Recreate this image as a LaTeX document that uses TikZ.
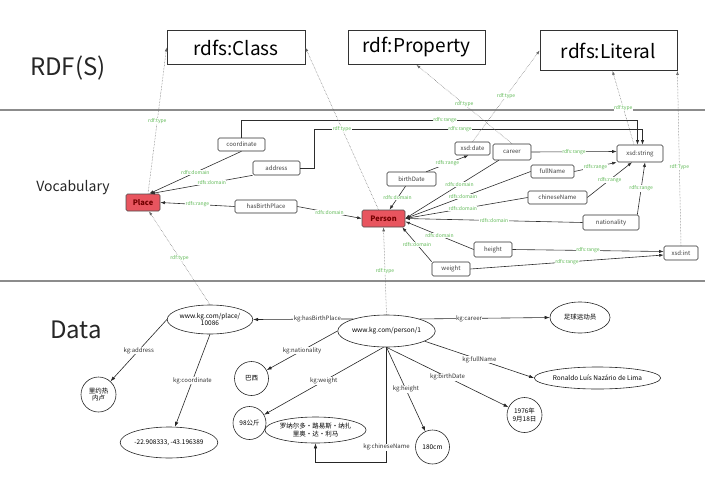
\documentclass[tikz,border=0pt]{standalone}
\usepackage{fontspec}
\setmainfont{Noto Sans CJK SC}
\usetikzlibrary{arrows.meta,shapes.geometric}
\definecolor{labgreen}{RGB}{95,185,85}
\definecolor{ln}{RGB}{45,45,45}
\definecolor{clsred}{RGB}{232,85,95}
\begin{document}
\begin{tikzpicture}[x=1pt,y=-1pt,
  vbox/.style={draw=ln, rounded corners=1.5pt, fill=white, inner sep=0pt, line width=0.6pt, font=\fontsize{6}{7}\selectfont, text=black!75},
  cls/.style={draw=black!70, rounded corners=1.5pt, fill=clsred, inner sep=0pt, line width=0.6pt, font=\fontsize{7.5}{8}\selectfont\bfseries, text=black!55!red},
  rbox/.style={draw=black!80, line width=0.8pt, inner sep=0pt, font=\fontsize{19}{22}\selectfont},
  glab/.style={text=labgreen, font=\fontsize{5}{6}\selectfont, fill=white, inner sep=0.4pt},
  dlab/.style={text=black!80, font=\fontsize{6}{7}\selectfont, fill=white, inner sep=0.4pt},
  arr/.style={draw=ln, line width=0.6pt, -{Latex[length=4.5pt,width=3.2pt]}},
  dotarr/.style={draw=black!60, line width=0.5pt, densely dotted, -{Latex[length=4pt,width=2.8pt]}},
  darr/.style={draw=black!85, line width=0.6pt, -{Latex[length=5pt,width=3.5pt]}},
  dell/.style={draw=black!85, ellipse, inner sep=0pt, line width=0.6pt, font=\fontsize{6.5}{7.5}\selectfont, align=center},
  dcirc/.style={draw=black!85, circle, inner sep=0pt, line width=0.6pt, font=\fontsize{6.5}{7.5}\selectfont, align=center},
  sep/.style={draw=black!45, line width=1.6pt},
  hdr/.style={font=\fontsize{24}{28}\selectfont, text=black!85}
]
\useasboundingbox (0,0) rectangle (720,479);

% section titles and separators
\node[hdr] (tRDF) at (68,68) {RDF(S)};
\node[font=\fontsize{14}{16}\selectfont, text=black!85] (tVoc) at (73,188) {Vocabulary};
\node[hdr] (tData) at (76,330) {Data};
\draw[sep] (0,110) -- (705,110);
\draw[sep] (0,281) -- (705,281);

% RDF(S) level
\node[rbox, minimum width=138, minimum height=34] (rclass) at (236,47.5) {rdfs:Class};
\node[rbox, minimum width=137, minimum height=34] (rprop) at (416.5,47.5) {rdf:Property};
\node[rbox, minimum width=137, minimum height=40] (rlit) at (608.5,50.5) {rdfs:Literal};

% Vocabulary level
\node[cls, minimum width=34, minimum height=17] (place) at (143,202.5) {Place};
\node[cls, minimum width=43, minimum height=17] (person) at (383.5,218.5) {Person};
\node[vbox, minimum width=47, minimum height=13] (coord) at (241.5,144.5) {coordinate};
\node[vbox, minimum width=47, minimum height=14] (addr) at (276.5,168) {address};
\node[vbox, minimum width=62, minimum height=13] (hbp) at (266,206.5) {hasBirthPlace};
\node[vbox, minimum width=49, minimum height=14] (bdate) at (411.5,179) {birthDate};
\node[vbox, minimum width=35, minimum height=13] (xdate) at (472.5,148.5) {xsd:date};
\node[vbox, minimum width=38, minimum height=16] (career) at (512,152) {career};
\node[vbox, minimum width=46, minimum height=17] (xstr) at (640,153.5) {xsd:string};
\node[vbox, minimum width=43, minimum height=13] (fname) at (552.5,171.5) {fullName};
\node[vbox, minimum width=59, minimum height=13] (cname) at (557.5,197.5) {chineseName};
\node[vbox, minimum width=56, minimum height=15] (nat) at (611,222.5) {nationality};
\node[vbox, minimum width=38, minimum height=15] (hgt) at (493,249.5) {height};
\node[vbox, minimum width=38, minimum height=14] (wgt) at (451,269) {weight};
\node[vbox, minimum width=34, minimum height=14] (xint) at (681,253) {xsd:int};

\coordinate (yA) at (0,120);
\coordinate (kB) at (314,129);

\draw[arr] (coord.south) -- node[glab]{rdfs:domain} (place.55);
\draw[arr] (addr.south west) -- node[glab,pos=0.4]{rdfs:domain} (place.50);
\draw[arr] (hbp.west) -- node[glab]{rdfs:range} (place.east);
\draw[arr] (hbp.east) -- node[glab]{rdfs:domain} (person.west);
\draw[arr] (coord.north) -- (coord.north |- yA) -| ([xshift=-2.5]xstr.north);
\draw[arr] (addr.east) -| (kB) -| ([xshift=2.5]xstr.north);
\node[glab] (lr1) at (445,120) {rdfs:range};
\node[glab] (lr2) at (460,129) {rdfs:range};

\draw[arr] ([xshift=-6]bdate.south) -- node[glab]{rdfs:domain} ([xshift=6]person.north);
\draw[arr] ([xshift=-10]bdate.north east) -- node[glab]{rdfs:range} ([xshift=-4]xdate.south);
\draw[arr] ([xshift=6]career.south west) -- node[glab,pos=0.42]{rdfs:domain} (person.east);
\draw[arr] (career.east) -- node[glab]{rdfs:range} ([yshift=2]xstr.west);
\draw[arr] (fname.west) -- node[glab,pos=0.54]{rdfs:domain} (person.east);
\draw[arr] (fname.east) -- node[glab]{rdfs:range} (xstr.south west);
\draw[arr] (cname.west) -- node[glab,pos=0.53]{rdfs:domain} (person.east);
\draw[arr] (cname.east) -- node[glab]{rdfs:range} ([xshift=-8]xstr.south);
\draw[arr] (nat.west) -- node[glab]{rdfs:domain} (person.east);
\draw[arr] ([xshift=-2]nat.north east) -- node[glab]{rdfs:range} ([xshift=5]xstr.south);
\draw[arr] (hgt.west) -- node[glab]{rdfs:domain} ([yshift=-3]person.east);
\draw[arr] (hgt.east) -- node[glab]{rdfs:range} ([yshift=1.5]xint.west);
\draw[arr] (wgt.north west) -- node[glab]{rdfs:domain} ([xshift=-3]person.south east);
\draw[arr] (wgt.east) -- node[glab]{rdfs:range} ([yshift=-2]xint.west);

% rdf:type links
\draw[dotarr] ([xshift=5]place.north) -- node[glab]{rdf:type} (rclass.west);
\draw[dotarr] ([xshift=-5]person.north) -- node[glab]{rdf:type} (rclass.east);
\draw[dotarr] (career.north) -- node[glab]{rdf:type} (rprop.south);
\draw[dotarr] (xdate.north) -- node[glab]{rdf:type} (rlit.west);
\draw[dotarr] ([xshift=-6]xstr.north) -- node[glab]{rdf:type} ([xshift=4]rlit.south);
\draw[dotarr] (xint.north) -- node[glab,pos=0.45]{rdf:Type} (rlit.south east);

% Data level
\node[dell, minimum width=70, minimum height=29] (pl) at (210,319.5) {www.kg.com/place/\\10086};
\node[dell, minimum width=87, minimum height=32] (pe) at (386.5,331) {www.kg.com/person/1};
\node[dell, minimum width=60, minimum height=31] (car) at (580,317.5) {足球运动员};
\node[dell, minimum width=121, minimum height=22] (fn) at (597.5,378) {Ronaldo Luís Nazário de Lima};
\node[dcirc, minimum size=35] (bd) at (524.5,415) {1976年\\9月18日};
\node[dcirc, minimum size=34] (ht) at (432.5,447) {180cm};
\node[dell, minimum width=75, minimum height=26] (cn) at (315.5,430) {罗纳尔多·路易斯·纳扎\\里奥·达·利马};
\node[dcirc, minimum size=33] (wt) at (249.5,423) {98公斤};
\node[dcirc, minimum size=34] (nat2) at (251.5,378.5) {巴西};
\node[dcirc, minimum size=35] (ad) at (98.5,394.5) {里约热\\内卢};
\node[dell, minimum width=92, minimum height=31] (co) at (169,442.5) {-22.908333, -43.196389};

\draw[dotarr] (pl.north) -- node[glab]{rdf:type} ([xshift=6]place.south);
\draw[dotarr] (pe.north) -- node[glab]{rdf:type} (person.south);

\draw[darr] (pe.160) -- node[dlab,pos=0.36]{kg:hasBirthPlace} (pl.east);
\draw[darr] (pe.20) -- node[dlab,pos=0.38]{kg:career} (car.west);
\draw[darr] (pe.-15) -- node[dlab]{kg:fullName} (fn.west);
\draw[darr] (pe.south) -- node[dlab]{kg:birthDate} (bd);
\draw[darr] (pe.south) -- node[dlab]{kg:height} (ht);
\draw[darr] (pe.south) -- node[dlab,pos=0.87]{kg:chineseName} ++(0,115) -| (cn.south);
\draw[darr] ([xshift=-3]pe.south) -- node[dlab]{kg:weight} (wt);
\draw[darr] (pe.west) -- node[dlab]{kg:nationality} (nat2);
\draw[darr] (pl.west) -- node[dlab]{kg:address} (ad);
\draw[darr] (pl.south) -- node[dlab]{kg:coordinate} (co);
\end{tikzpicture}
\end{document}
